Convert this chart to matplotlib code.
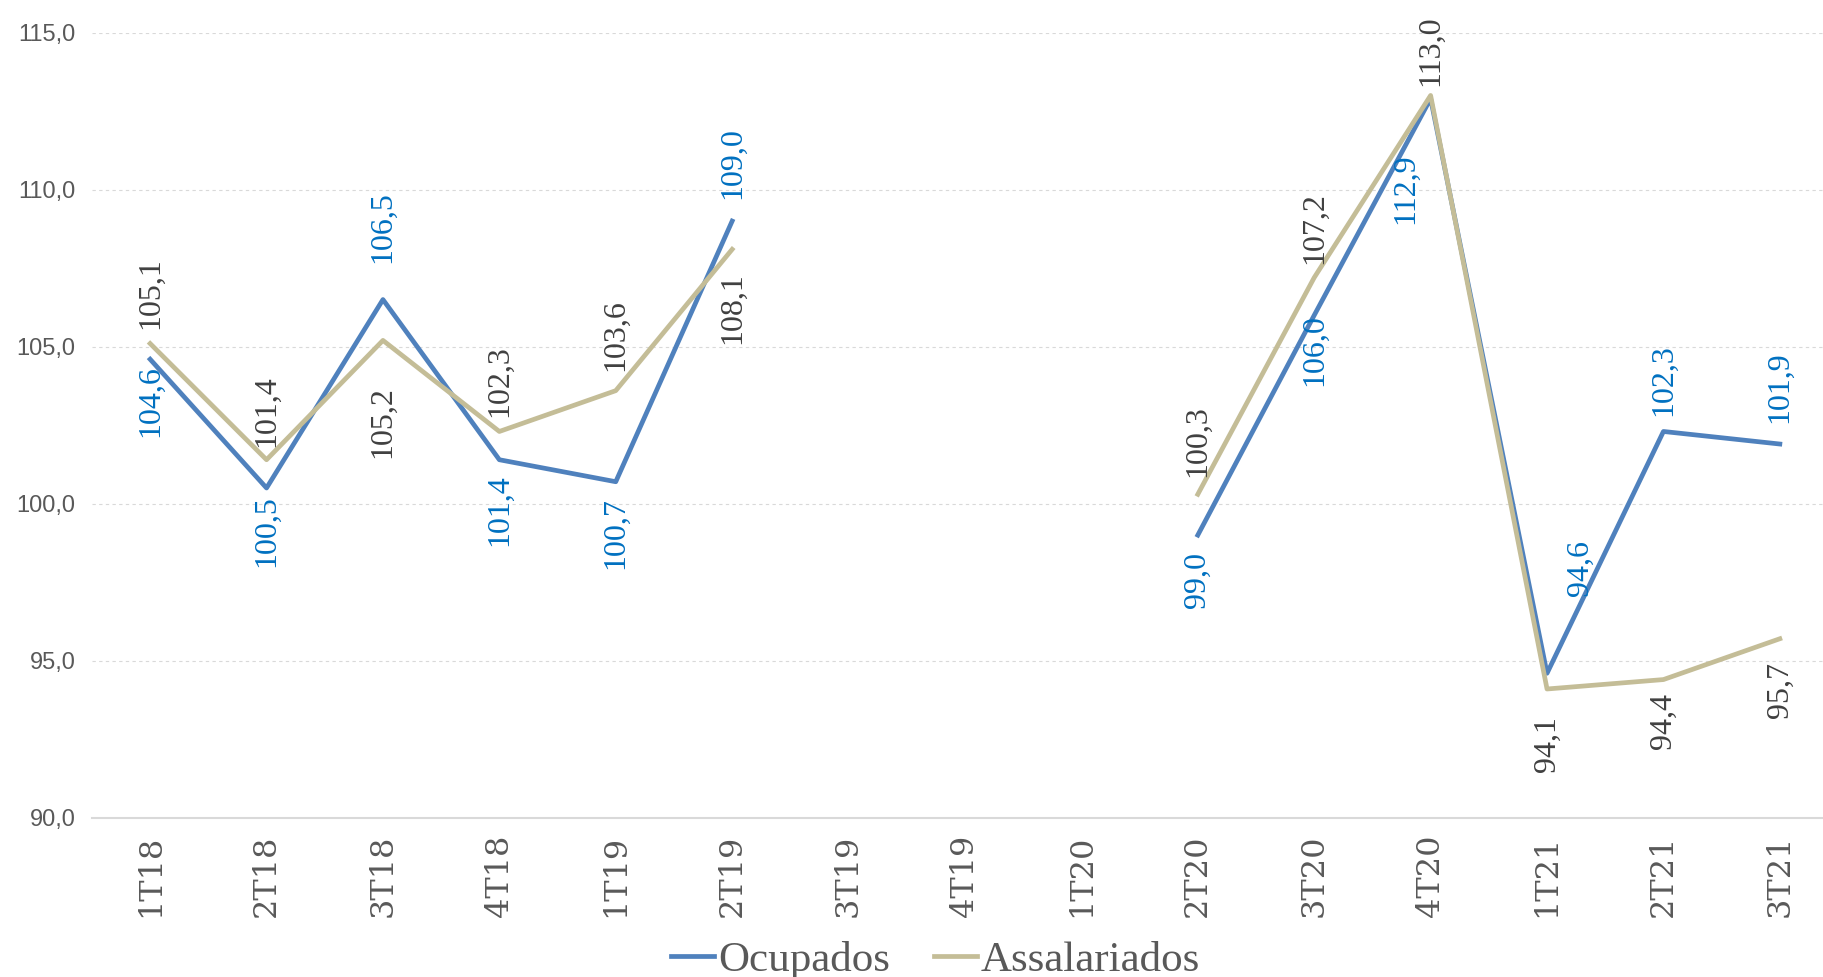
import numpy as np
import matplotlib
matplotlib.use('Agg')
import matplotlib.pyplot as plt

# Quarterly index values (nan = no data)
quarters = ['1T18', '2T18', '3T18', '4T18', '1T19', '2T19', '3T19', '4T19',
            '1T20', '2T20', '3T20', '4T20', '1T21', '2T21', '3T21']
ocupados = [104.6, 100.5, 106.5, 101.4, 100.7, 109.0, np.nan, np.nan,
            np.nan, 99.0, 106.0, 112.9, 94.6, 102.3, 101.9]
assalariados = [105.1, 101.4, 105.2, 102.3, 103.6, 108.1, np.nan, np.nan,
                np.nan, 100.3, 107.2, 113.0, 94.1, 94.4, 95.7]

# label offsets in points (dx, dy) - sign of dy says above/below
ocup_off = [(0, -30), (0, -31), (0, 52), (0, -36), (0, -37), (0, 42), None, None,
            None, (0, -32), (0, -25), (-18, -65), (24, 76), (0, 37), (0, 41)]
assal_off = [(0, 36), (0, 35), (0, -59), (0, 36), (0, 40), (0, -42), None, None,
             None, (0, 38), (0, 36), (0, 32), (0, -40), (0, -30), (0, -37)]

blue = '#4F81BD'
tan = '#C4BD97'

fig = plt.figure(figsize=(18.24, 9.77), dpi=100)
ax = fig.add_axes([0.0504, 0.163, 0.9573, 0.8036])

x = np.arange(len(quarters))
ax.plot(x, ocupados, color=blue, lw=3.4, label='Ocupados', zorder=3)
ax.plot(x, assalariados, color=tan, lw=3.4, label='Assalariados', zorder=3)

def fmt(v):
    return f'{v:.1f}'.replace('.', ',')

for i in range(len(quarters)):
    if ocup_off[i] is not None:
        ax.annotate(fmt(ocupados[i]), (x[i], ocupados[i]), xytext=ocup_off[i],
                    textcoords='offset points', rotation=90, ha='center', va='center',
                    fontsize=23, color='#0070C0', family='Liberation Serif')
    if assal_off[i] is not None:
        ax.annotate(fmt(assalariados[i]), (x[i], assalariados[i]), xytext=assal_off[i],
                    textcoords='offset points', rotation=90, ha='center', va='center',
                    fontsize=23, color='#404040', family='Liberation Serif')

ax.set_xlim(-0.5, len(quarters) - 0.5)
ax.set_ylim(90, 115)
ax.set_yticks([90, 95, 100, 105, 110, 115])
ax.set_yticklabels([fmt(v) for v in [90, 95, 100, 105, 110, 115]],
                   fontsize=17, color='#595959', family='Liberation Sans')
ax.set_xticks(x)
ax.set_xticklabels(quarters, rotation=90, fontsize=23, color='#595959',
                   family='DejaVu Serif')
ax.tick_params(axis='both', length=0)
ax.tick_params(axis='x', pad=12)
ax.tick_params(axis='y', pad=12)

ax.grid(axis='y', color='#D9D9D9', linestyle=(0, (3, 3)), lw=0.8)
for s in ['top', 'right', 'left']:
    ax.spines[s].set_visible(False)
ax.spines['bottom'].set_color('#D9D9D9')
ax.spines['bottom'].set_linewidth(1.5)

fig.legend(loc='center', bbox_to_anchor=(0.513, 0.017), ncol=2, frameon=False,
           prop={'family': 'Liberation Serif', 'size': 31}, handlelength=1.0,
           handletextpad=0.1, columnspacing=1.0, labelcolor='#595959')

fig.savefig('out.png', dpi=100)
